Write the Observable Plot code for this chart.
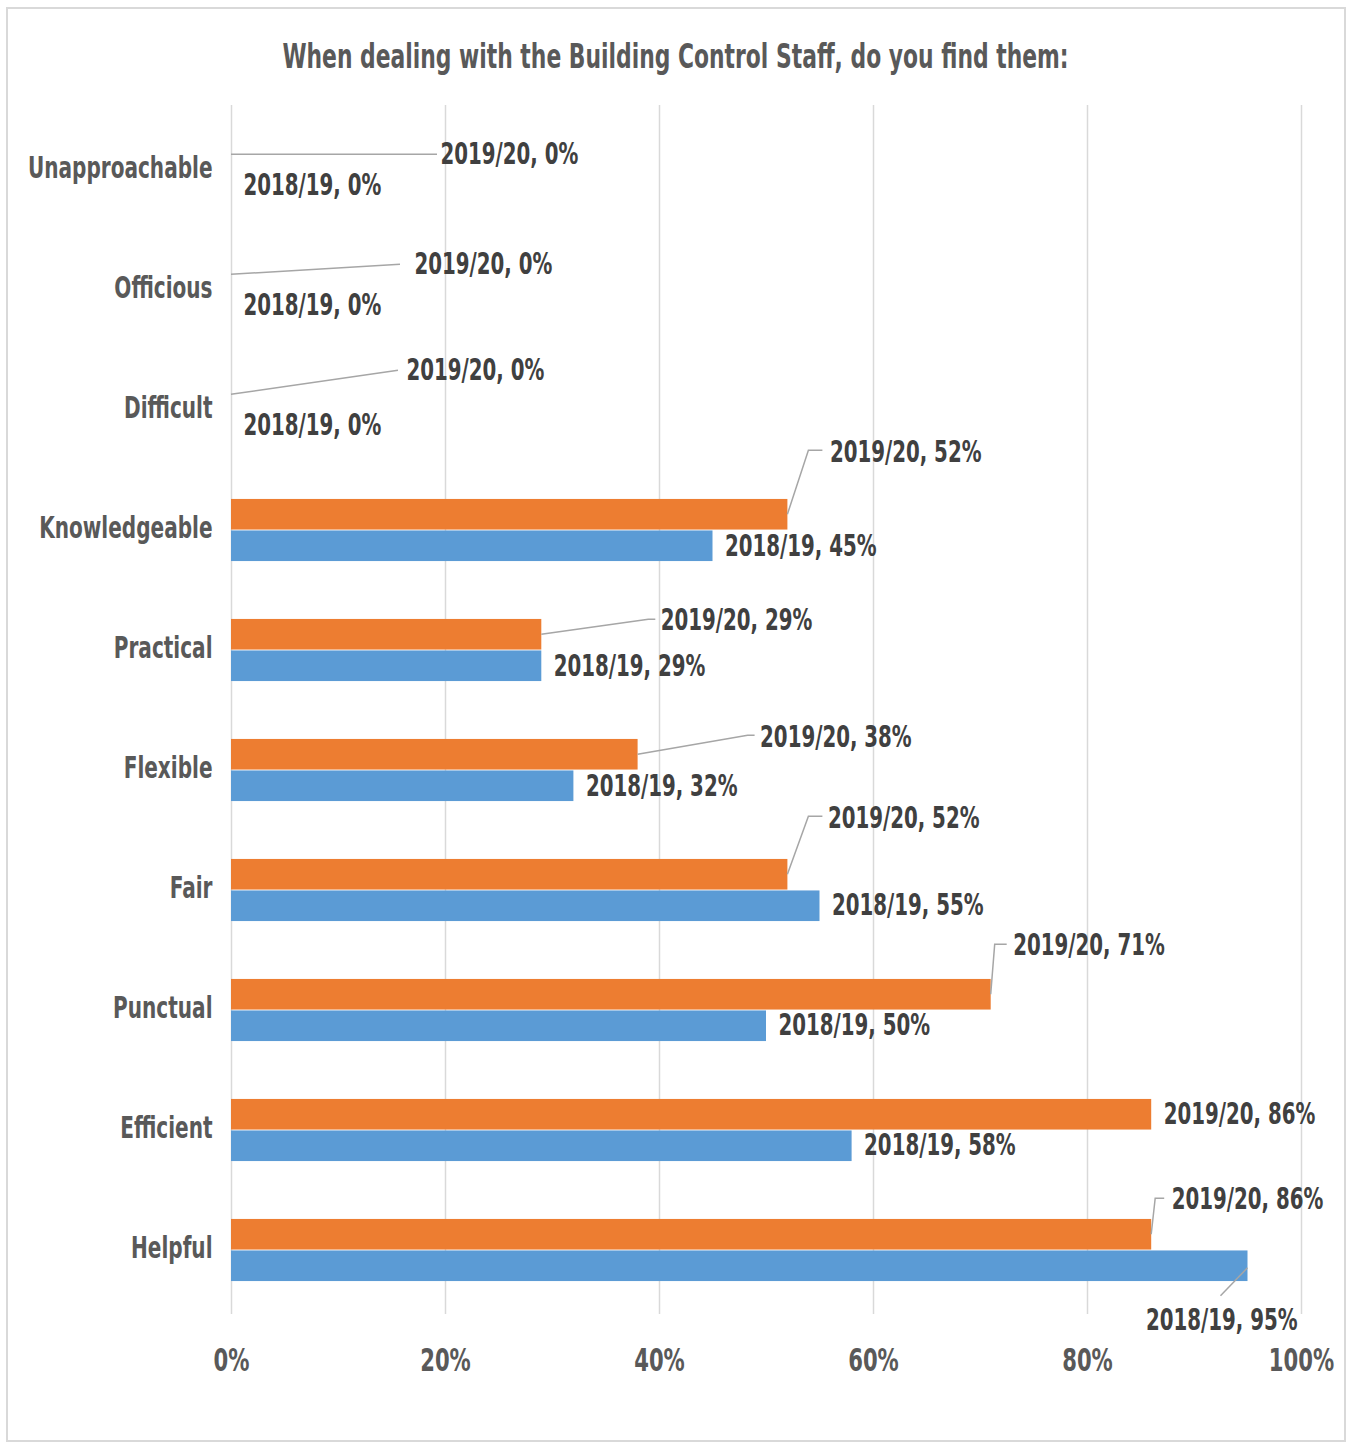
<!DOCTYPE html>
<html>
<head>
<meta charset="utf-8">
<script src="https://cdn.jsdelivr.net/npm/d3@7"></script>
<script src="https://cdn.jsdelivr.net/npm/@observablehq/plot@0.6"></script>
<style>
  html, body { margin: 0; padding: 0; background: #fff; }
  #wrap { position: relative; width: 1351px; height: 1445px; overflow: hidden; }
  #frame { position: absolute; left: 6px; top: 7px; width: 1340px; height: 1435px;
           border: 2px solid #d9d9d9; box-sizing: border-box; pointer-events: none; }
  #title { height: 95px; position: relative; }
  #title span { position: absolute; left: 0; right: 0; top: 42px; text-align: center;
    font-family: "DejaVu Sans Condensed", "DejaVu Sans"; font-stretch: condensed; font-weight: bold;
    font-size: 24.3px; color: #595959; transform: scaleY(1.38); transform-origin: 50% 50%; white-space: nowrap; }
  svg text { font-family: "DejaVu Sans Condensed", "DejaVu Sans"; font-stretch: condensed; font-weight: bold; }
</style>
</head>
<body>
<div id="wrap">
  <div id="title"><span>When dealing with the Building Control Staff, do you find them:</span></div>
  <div id="chart"></div>
  <div id="frame"></div>
</div>
<script>
// ---- data ----
const categories = ["Unapproachable", "Officious", "Difficult", "Knowledgeable", "Practical",
                    "Flexible", "Fair", "Punctual", "Efficient", "Helpful"];
const series = ["2019/20", "2018/19"];
const values2019_20 = [0, 0, 0, 52, 29, 38, 52, 71, 86, 86];
const values2018_19 = [0, 0, 0, 45, 29, 32, 55, 50, 58, 95];
const xTicks = [0, 20, 40, 60, 80, 100];

// ---- presentation: manual data-label placement (pixel offsets from bar end / bar centre) ----
const labelOffsets2019_20 = [
  {dx: 209, dy: 2,   leader: [[0, 0], [206, 0]]},
  {dx: 183, dy: -8,  leader: [[0, 0], [169, -10]]},
  {dx: 175, dy: -22, leader: [[0, 0], [167, -24]]},
  {dx: 42,  dy: -60, leader: [[0, 0], [21, -64], [35, -64]]},
  {dx: 119, dy: -12, leader: [[0, 0], [107, -15], [114, -15]]},
  {dx: 122, dy: -15, leader: [[0, 0], [110, -19], [117, -19]]},
  {dx: 40,  dy: -54, leader: [[0, 0], [21, -58], [35, -58]]},
  {dx: 22,  dy: -47, leader: [[0, 0], [4, -50], [16, -50]]},
  {dx: 12,  dy: 2,   leader: null},
  {dx: 20,  dy: -33, leader: [[0, 0], [4, -36], [13, -36]]}
];
const labelOffsets2018_19 = [
  {dx: 12, dy: 2}, {dx: 12, dy: 2}, {dx: 12, dy: 2}, {dx: 12, dy: 3}, {dx: 12, dy: 3},
  {dx: 12, dy: 3}, {dx: 12, dy: 2}, {dx: 12, dy: 2}, {dx: 12, dy: 2},
  {dx: -102, dy: 57, leader: [[0, 2], [-27, 30]]}
];

const rows = [];
categories.forEach((c, i) => {
  rows.push({category: c, series: series[0], value: values2019_20[i], lay: labelOffsets2019_20[i]});
  rows.push({category: c, series: series[1], value: values2018_19[i], lay: labelOffsets2018_19[i]});
});

const colors = {"2019/20": "#ED7D31", "2018/19": "#5B9BD5"};
const H = 1350, MT = 10, MB = 131;
const band = (H - MT - MB) / categories.length;   // px per category
const barH = 31.5;
const half = band / 2;
// bar centre offset from band centre
const barOff = s => s === "2019/20" ? -barH / 2 : barH / 2;

const labelMarks = rows.map(r => Plot.text([r], {
  x: "value", y: "category",
  text: d => `${d.series}, ${d.value}%`,
  dx: r.lay.dx, dy: barOff(r.series) + r.lay.dy,
  textAnchor: "start", fill: "#404040", fontSize: 22
}));

const leaderMark = (index, scales) => {
  const g = d3.create("svg:g").attr("fill", "none").attr("stroke", "#a6a6a6").attr("stroke-width", 1.5);
  const ys = scales.y;
  const bw = typeof ys.bandwidth === "function" ? ys.bandwidth() : (ys.bandwidth ?? band);
  for (const r of rows) {
    if (!r.lay.leader) continue;
    const x0 = scales.x(r.value);
    const y0 = ys(r.category) + bw / 2 + barOff(r.series);
    g.append("path").attr("d", d3.line()(r.lay.leader.map(([a, b]) => [x0 + a, y0 + b])));
  }
  return g.node();
};

const chart = Plot.plot({
  width: 1351,
  height: H,
  marginTop: MT,
  marginBottom: MB,
  marginLeft: 231,
  marginRight: 50,
  style: {background: "transparent", overflow: "visible"},
  x: {domain: [0, 100], ticks: xTicks},
  y: {domain: categories, padding: 0},
  marks: [
    Plot.gridX(xTicks, {stroke: "#d9d9d9", strokeOpacity: 1, strokeWidth: 1.5}),
    Plot.barX(rows.filter(r => r.series === "2019/20"), {
      x: "value", y: "category", fill: colors["2019/20"],
      insetTop: half - barH, insetBottom: half
    }),
    Plot.barX(rows.filter(r => r.series === "2018/19"), {
      x: "value", y: "category", fill: colors["2018/19"],
      insetTop: half, insetBottom: half - barH
    }),
    Plot.axisX(xTicks, {tickSize: 0, tickPadding: 40, tickFormat: d => d + "%", fontSize: 23.5, fill: "#595959", label: null}),
    Plot.axisY({tickSize: 0, tickPadding: 19, fontSize: 22.3, fill: "#595959", label: null}),
    leaderMark,
    ...labelMarks
  ]
});
document.getElementById("chart").appendChild(chart);

// stretch glyphs vertically around their own anchor (condensed-bold look of the original)
const K = 1.38;
d3.select(chart).selectAll("text").each(function () {
  const t = this.getAttribute("transform") || "";
  const y = this.getAttribute("y");
  if (y && /em$/.test(y)) this.setAttribute("y", (parseFloat(y) / K) + "em");
  else if (y && !isNaN(+y)) {
    this.setAttribute("transform", `${t} translate(0,${+y}) scale(1,${K}) translate(0,${-y})`);
    return;
  }
  this.setAttribute("transform", `${t} scale(1,${K})`);
});
</script>
</body>
</html>
